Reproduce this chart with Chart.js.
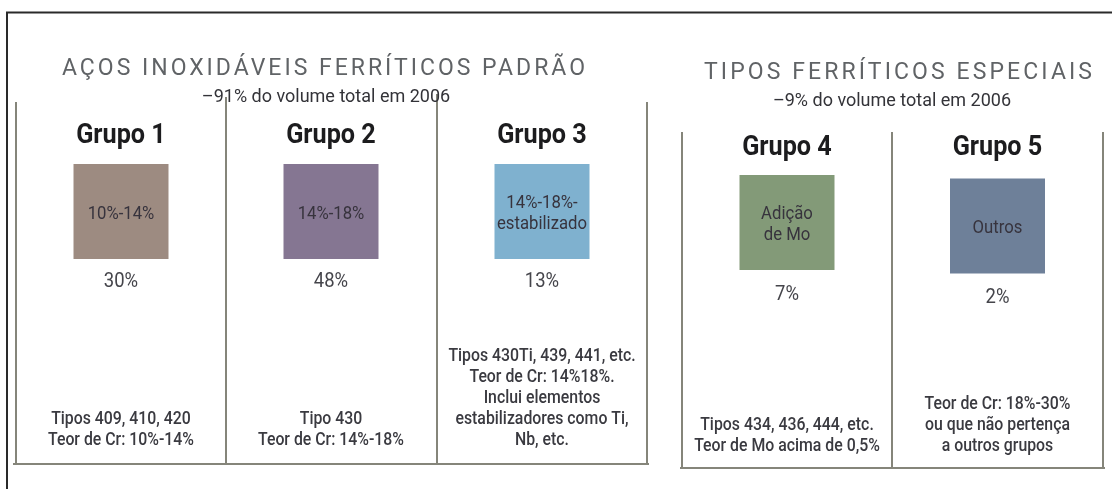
<!DOCTYPE html>
<html>
<head>
<meta charset="utf-8">
<script src="https://cdn.jsdelivr.net/npm/chart.js@4.4.1/dist/chart.umd.min.js"></script>
<style>
  html, body { margin: 0; padding: 0; background: #fff; overflow: hidden; }
  canvas { display: block; }
</style>
</head>
<body>
<canvas id="chart" width="1112" height="489"></canvas>
<script>
// data
const groups = ['Grupo 1', 'Grupo 2', 'Grupo 3', 'Grupo 4', 'Grupo 5'];
const crRanges = [['10%-14%'], ['14%-18%'], ['14%-18%-', 'estabilizado'], ['Adição', 'de Mo'], ['Outros']];
const shares = [30, 48, 13, 7, 2];
const notes = [
  ['Tipos 409, 410, 420', 'Teor de Cr: 10%-14%'],
  ['Tipo 430', 'Teor de Cr: 14%-18%'],
  ['Tipos 430Ti, 439, 441, etc.', 'Teor de Cr: 14%18%.', 'Inclui elementos', 'estabilizadores como Ti,', 'Nb, etc.'],
  ['Tipos 434, 436, 444, etc.', 'Teor de Mo acima de 0,5%'],
  ['Teor de Cr: 18%-30%', 'ou que não pertença', 'a outros grupos']
];
const panelTitles = ['AÇOS INOXIDÁVEIS FERRÍTICOS PADRÃO', 'TIPOS FERRÍTICOS ESPECIAIS'];
const panelShares = [91, 9];
const year = 2006;

// styles and layout
const colors = ['#9d8b81', '#857692', '#7fb1cf', '#839a78', '#6e8099'];
const colX = [121, 331, 542, 787, 997.5];
const boxY = [211.5, 211.5, 211.5, 222.5, 226];
const BOX = 95;
const titleBase = [143, 143, 143, 155, 155];
const shareBase = [287, 287, 287, 300, 303];
const noteBottom = [445, 445, 445, 451, 451];
const panels = [
  { cx: 323.5, titleY: 75, titleW: 523, subX: 326, subY: 102, lines: [16, 226, 437, 647], tops: [102, 97, 94, 102], bottom: 464, left: 13, right: 649 },
  { cx: 898, titleY: 79, titleW: 388, subX: 892, subY: 106, lines: [682, 892, 1103], tops: [132, 132, 132], bottom: 468, left: 680, right: 1105 }
];
const FONT = 'Roboto, "Liberation Sans", sans-serif';
const NARROW = 0.88;

function text(ctx, s, x, y, font, color, sx) {
  ctx.save();
  ctx.font = font;
  ctx.fillStyle = color;
  ctx.textAlign = 'center';
  ctx.textBaseline = 'alphabetic';
  ctx.translate(x, y);
  ctx.scale(sx || 1, 1);
  ctx.fillText(s, 0, 0);
  ctx.restore();
}

function spaced(ctx, s, cx, y, font, color, width) {
  ctx.save();
  ctx.font = font;
  ctx.letterSpacing = '0px';
  const w = ctx.measureText(s).width;
  const n = [...s].length;
  const sp = (width - w) / (n - 1);
  ctx.letterSpacing = sp + 'px';
  ctx.fillStyle = color;
  ctx.textAlign = 'left';
  ctx.textBaseline = 'alphabetic';
  ctx.fillText(s, cx - width / 2, y);
  ctx.restore();
}

function line(ctx, x1, y1, x2, y2) {
  ctx.beginPath();
  ctx.moveTo(x1, y1);
  ctx.lineTo(x2, y2);
  ctx.stroke();
}

const infographic = {
  id: 'infographic',
  beforeDatasetsDraw(chart) {
    const ctx = chart.ctx;
    const px = v => chart.scales.x.getPixelForValue(v);
    const py = v => chart.scales.y.getPixelForValue(v);
    ctx.save();
    // outer frame
    ctx.strokeStyle = '#2a2a2a';
    ctx.lineWidth = 2;
    line(ctx, px(7), py(489), px(7), py(12.5));
    line(ctx, px(6), py(12.5), px(1112), py(12.5));
    // panel boxes
    ctx.strokeStyle = '#85857a';
    ctx.lineWidth = 2;
    panels.forEach(p => {
      p.lines.forEach((x, i) => line(ctx, px(x), py(p.tops[i]), px(x), py(p.bottom)));
      line(ctx, px(p.left), py(p.bottom), px(p.right), py(p.bottom));
    });
    ctx.restore();
  },
  afterDatasetsDraw(chart) {
    const ctx = chart.ctx;
    const px = v => chart.scales.x.getPixelForValue(v);
    const py = v => chart.scales.y.getPixelForValue(v);

    panels.forEach((p, i) => {
      spaced(ctx, panelTitles[i], px(p.cx), py(p.titleY), '23px ' + FONT, '#606366', p.titleW);
      text(ctx, '–' + panelShares[i] + '% do volume total em ' + year, px(p.subX), py(p.subY), '18px ' + FONT, '#333338', 1);
    });

    groups.forEach((g, i) => {
      const x = px(colX[i]);
      text(ctx, g, x, py(titleBase[i]), 'bold 28px ' + FONT, '#1c1c1e', 0.9);

      const lab = crRanges[i];
      lab.forEach((s, k) => {
        const cy = boxY[i] + (k - (lab.length - 1) / 2) * 21;
        text(ctx, s, x, py(cy + 7), '19px ' + FONT, '#37333d', NARROW);
      });

      text(ctx, shares[i] + '%', x, py(shareBase[i]), '21px ' + FONT, '#45454b', NARROW);

      const nt = notes[i];
      nt.forEach((s, k) => {
        const y = noteBottom[i] - (nt.length - 1 - k) * 21;
        text(ctx, s, x, py(y), '500 18px ' + FONT, '#3a3a40', NARROW);
      });
    });
  }
};

const points = colX.map((x, i) => ({ x: x, y: boxY[i] }));

new Chart(document.getElementById('chart'), {
  type: 'scatter',
  data: {
    datasets: [{
      data: points,
      pointStyle: 'rect',
      pointRadius: BOX / Math.SQRT2,
      pointHoverRadius: BOX / Math.SQRT2,
      pointBackgroundColor: colors,
      pointBorderWidth: 0,
      clip: false
    }]
  },
  options: {
    responsive: false,
    animation: false,
    events: [],
    layout: { padding: 0, autoPadding: false },
    plugins: { legend: { display: false }, tooltip: { enabled: false } },
    scales: {
      x: { type: 'linear', min: 0, max: 1112, display: false },
      y: { type: 'linear', min: 0, max: 489, reverse: true, display: false }
    }
  },
  plugins: [infographic]
});
</script>
</body>
</html>
